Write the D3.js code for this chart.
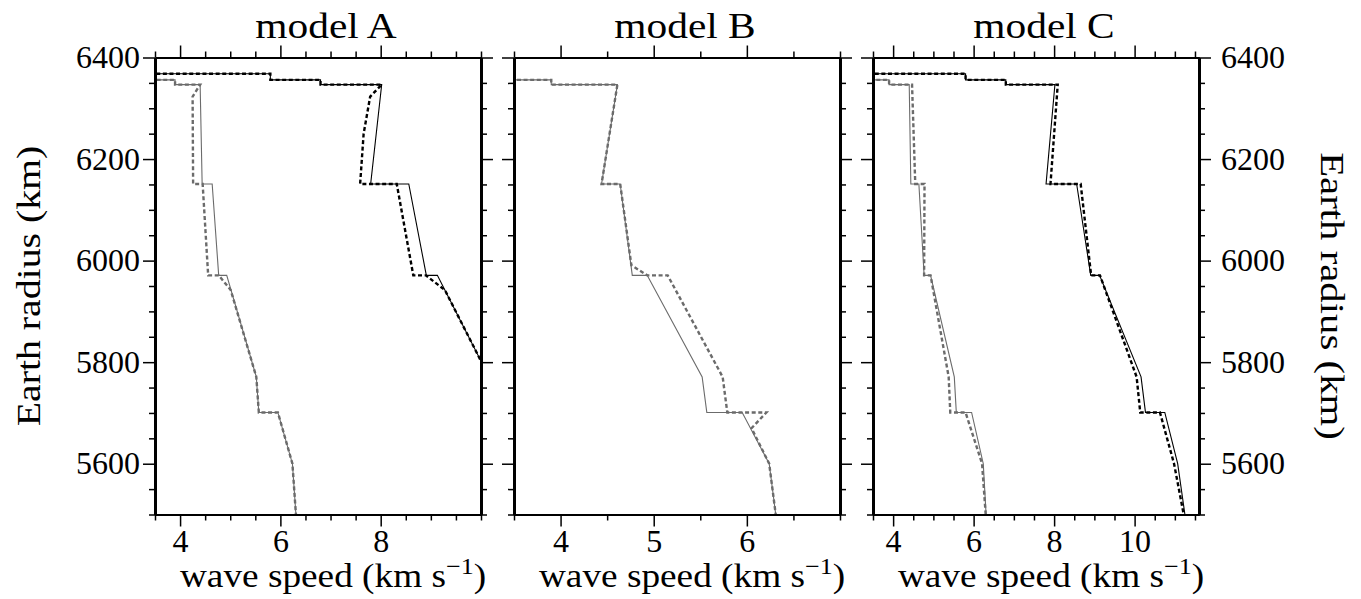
<!DOCTYPE html>
<html>
<head>
<meta charset="utf-8">
<script src="https://cdn.jsdelivr.net/npm/d3@7"></script>
<style>
  body { margin: 0; background: #fff; }
  text { font-family: "Liberation Serif", "Times New Roman", serif; fill: #000; }
</style>
</head>
<body>
<svg id="chart" width="1361" height="599"></svg>
<script>
// radius axis (km)
const radiusDomain = [5500, 6400];
const radiusMajor = [5600, 5800, 6000, 6200, 6400];

// one entry per panel
const panelTitles = ["model A", "model B", "model C"];
const speedDomains = [[3.5, 10], [3.5, 7], [3.5, 11.6]];
const speedMajor = [[4, 6, 8], [4, 5, 6], [4, 6, 8, 10]];

// [radius km, speed km/s]
const aVpRef = [[6371,1.45],[6368,1.45],[6368,5.8],[6356,5.8],[6356,6.8],[6346.6,6.8],[6346.6,8.02],[6151,7.80],[6151,8.56],[5971,8.91],[5971,9.13],[5771,10.16],[5701,10.27],[5701,10.75],[5600,11.07],[5500,11.25]];
const aVpModel = [[6371,1.45],[6368,1.45],[6368,5.8],[6356,5.8],[6356,6.8],[6346.6,6.8],[6346.6,8.02],[6323,7.79],[6250,7.66],[6151,7.59],[6151,8.32],[5971,8.65],[5971,8.90],[5942,9.28],[5771,10.16],[5701,10.27],[5701,10.75],[5600,11.07],[5500,11.25]];
const aVsRef = [[6371,0],[6368,0],[6368,3.2],[6356,3.2],[6356,3.9],[6346.6,3.9],[6346.6,4.40],[6151,4.44],[6151,4.64],[5971,4.77],[5971,4.93],[5771,5.52],[5701,5.57],[5701,5.95],[5600,6.24],[5500,6.31]];
const aVsModel = [[6371,0],[6368,0],[6368,3.2],[6356,3.2],[6356,3.9],[6346.6,3.9],[6346.6,4.40],[6323,4.25],[6151,4.26],[6151,4.45],[5971,4.56],[5971,4.77],[5942,5.01],[5771,5.52],[5701,5.57],[5701,5.95],[5600,6.24],[5500,6.31]];

const bVsRef = [[6371,0],[6368,0],[6368,3.2],[6356,3.2],[6356,3.9],[6346.6,3.9],[6346.6,4.61],[6151,4.44],[6151,4.64],[5971,4.77],[5971,4.93],[5771,5.52],[5701,5.57],[5701,5.95],[5600,6.24],[5500,6.31]];
const bVsModel = [[6371,0],[6368,0],[6368,3.2],[6356,3.2],[6356,3.9],[6346.6,3.9],[6346.6,4.61],[6151,4.44],[6151,4.64],[5991,4.76],[5971,4.93],[5971,5.15],[5771,5.74],[5701,5.79],[5701,6.21],[5670,6.05],[5600,6.24],[5500,6.31]];

const cVpRef = aVpRef;
const cVpModel = [[6371,1.45],[6368,1.45],[6368,5.8],[6356,5.8],[6356,6.8],[6346.6,6.8],[6346.6,8.09],[6151,7.91],[6151,8.66],[5971,8.92],[5971,9.14],[5771,10.05],[5701,10.14],[5701,10.63],[5600,10.98],[5500,11.22]];
const cVsRef = aVsRef;
const cVsModel = [[6371,0],[6368,0],[6368,3.2],[6356,3.2],[6356,3.9],[6346.6,3.9],[6346.6,4.47],[6151,4.55],[6151,4.78],[5971,4.77],[5971,4.93],[5771,5.38],[5701,5.42],[5701,5.80],[5600,6.21],[5500,6.30]];

const panelSeries = [
  [{d: aVsRef, c: "gray", dash: false}, {d: aVpRef, c: "black", dash: false},
   {d: aVsModel, c: "gray", dash: true}, {d: aVpModel, c: "black", dash: true}],
  [{d: bVsRef, c: "gray", dash: false}, {d: bVsModel, c: "gray", dash: true}],
  [{d: cVsRef, c: "gray", dash: false}, {d: cVpRef, c: "black", dash: false},
   {d: cVsModel, c: "gray", dash: true}, {d: cVpModel, c: "black", dash: true}]
];

const colors = {black: "#000", gray: "#6b6b6b"};
const panelLeft = [155, 514, 873];
const panelWidth = 326;
const plotTop = 57.5, plotBottom = 514.5;
const majorLen = 12, minorLen = 6;

const svg = d3.select("#chart");
svg.append("rect").attr("width", 1361).attr("height", 599).attr("fill", "#fff");

let y = d3.scaleLinear().domain(radiusDomain).range([plotBottom, plotTop]);
let radiusMinor = d3.range(5500, 6401, 50).filter(v => !radiusMajor.includes(v));

function styleAxis(g, w) {
  g.attr("font-family", null);
  g.select(".domain").attr("stroke-width", w);
  g.selectAll(".tick line").attr("stroke-width", 1.5);
  g.selectAll("text").attr("font-size", 32).attr("fill", "#000");
}

panelTitles.forEach((title, i) => {
  let x0 = panelLeft[i];
  let x = d3.scaleLinear().domain(speedDomains[i]).range([x0, x0 + panelWidth]);
  let dom = speedDomains[i];
  let speedMinor = d3.range(Math.ceil(dom[0] * 2) / 2, dom[1] + 0.001, 0.5).filter(v => !speedMajor[i].includes(v));

  let g = svg.append("g");

  g.append("clipPath").attr("id", "clip" + i)
    .append("rect").attr("x", x0).attr("y", plotTop).attr("width", panelWidth).attr("height", plotBottom - plotTop);

  let line = d3.line().x(d => x(d[1])).y(d => y(d[0]));
  g.append("g").attr("clip-path", `url(#clip${i})`)
    .selectAll("path").data(panelSeries[i]).enter()
    .append("path")
    .attr("d", s => line(s.d))
    .attr("fill", "none")
    .attr("stroke", s => colors[s.c])
    .attr("stroke-width", s => s.dash ? 2.4 : 1.1)
    .attr("stroke-dasharray", s => s.dash ? "4,2.6" : null)
    .attr("stroke-linejoin", "miter");

  // x axes, bottom and top
  let bMaj = g.append("g").attr("transform", `translate(0,${plotBottom})`)
    .call(d3.axisBottom(x).tickValues(speedMajor[i]).tickSize(majorLen).tickSizeOuter(0).tickPadding(3).tickFormat(d3.format("d")));
  styleAxis(bMaj, 2);
  let bMin = g.append("g").attr("transform", `translate(0,${plotBottom})`)
    .call(d3.axisBottom(x).tickValues(speedMinor).tickSize(minorLen).tickSizeOuter(0).tickFormat(""));
  styleAxis(bMin, 2);
  let tMaj = g.append("g").attr("transform", `translate(0,${plotTop})`)
    .call(d3.axisTop(x).tickValues(speedMajor[i]).tickSize(majorLen).tickSizeOuter(0).tickFormat(""));
  styleAxis(tMaj, 2);
  let tMin = g.append("g").attr("transform", `translate(0,${plotTop})`)
    .call(d3.axisTop(x).tickValues(speedMinor).tickSize(minorLen).tickSizeOuter(0).tickFormat(""));
  styleAxis(tMin, 2);

  // y axes, left and right
  let lMaj = g.append("g").attr("transform", `translate(${x0},0)`)
    .call(d3.axisLeft(y).tickValues(radiusMajor).tickSize(majorLen).tickSizeOuter(0).tickPadding(3)
      .tickFormat(i == 0 ? d3.format("d") : ""));
  styleAxis(lMaj, 3);
  let lMin = g.append("g").attr("transform", `translate(${x0},0)`)
    .call(d3.axisLeft(y).tickValues(radiusMinor).tickSize(minorLen).tickSizeOuter(0).tickFormat(""));
  styleAxis(lMin, 3);
  let rMaj = g.append("g").attr("transform", `translate(${x0 + panelWidth},0)`)
    .call(d3.axisRight(y).tickValues(radiusMajor).tickSize(majorLen).tickSizeOuter(0).tickPadding(10)
      .tickFormat(i == 2 ? d3.format("d") : ""));
  styleAxis(rMaj, 3);
  let rMin = g.append("g").attr("transform", `translate(${x0 + panelWidth},0)`)
    .call(d3.axisRight(y).tickValues(radiusMinor).tickSize(minorLen).tickSizeOuter(0).tickFormat(""));
  styleAxis(rMin, 3);

  let cx = x0 + panelWidth / 2;

  // title
  g.append("text")
    .attr("transform", `translate(${cx + 8},38) scale(1.15,1)`)
    .attr("text-anchor", "middle")
    .attr("font-size", 36)
    .text(title);

  // x label with superscript
  let xl = g.append("text")
    .attr("transform", `translate(${cx + 15},587) scale(1.13,1)`)
    .attr("text-anchor", "middle")
    .attr("font-size", 33);
  xl.append("tspan").text("wave speed (km s");
  xl.append("tspan").attr("font-size", 23).attr("dy", -13).text("\u22121");
  xl.append("tspan").attr("dy", 13).text(")");
});

// radius labels
svg.append("text")
  .attr("transform", "translate(40,286) rotate(-90) scale(1.17,1)")
  .attr("text-anchor", "middle")
  .attr("font-size", 34)
  .text("Earth radius (km)");

svg.append("text")
  .attr("transform", "translate(1321,296) rotate(90) scale(1.2,1)")
  .attr("text-anchor", "middle")
  .attr("font-size", 34)
  .text("Earth radius (km)");
</script>
</body>
</html>
